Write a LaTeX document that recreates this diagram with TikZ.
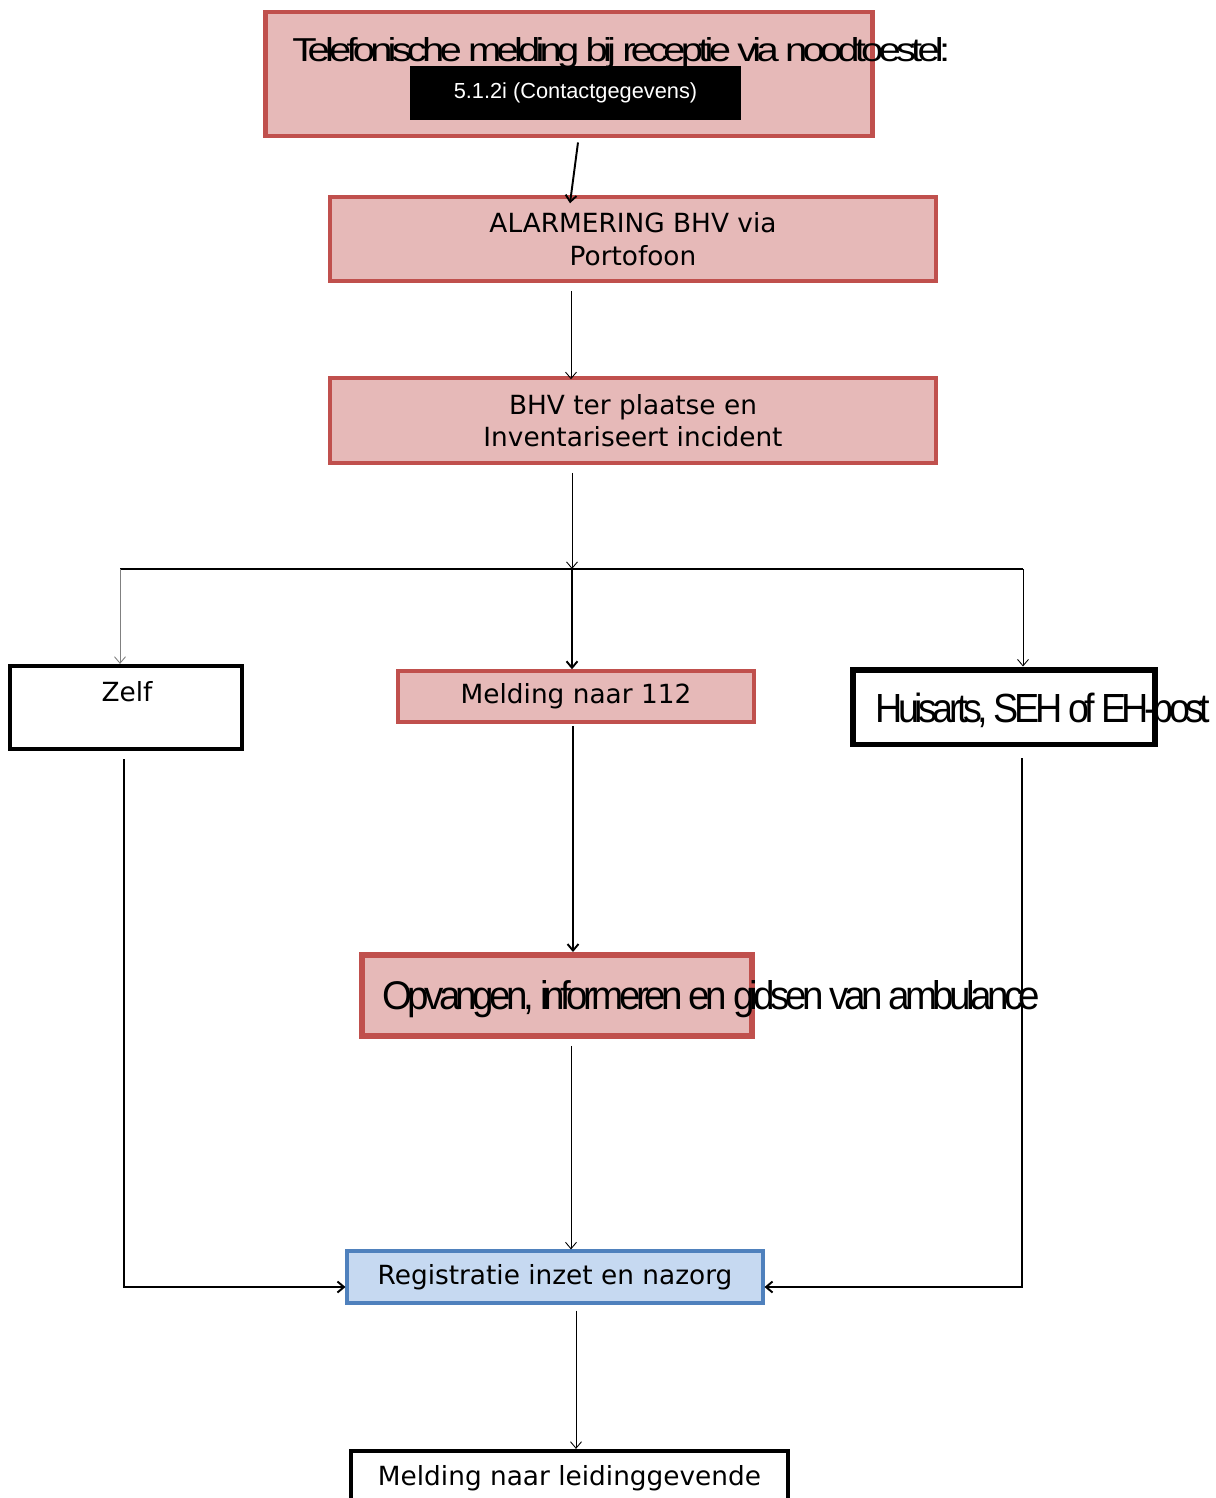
\documentclass[tikz,border=0pt]{standalone}
\usepackage{fontspec}
\usepackage{graphicx}
\setmainfont{DejaVu Sans}
\newfontfamily\arialfont{Liberation Sans}
\newfontfamily\tightfont[LetterSpace=-12]{Liberation Sans}
\usetikzlibrary{arrows.meta,positioning,calc}

\definecolor{boxred}{HTML}{C0504D}
\definecolor{boxpink}{HTML}{E6B9B8}
\definecolor{boxblue}{HTML}{4F81BD}
\definecolor{boxlight}{HTML}{C6D9F1}
\newcommand\boxfont{\fontsize{15pt}{18.5pt}\selectfont}

\begin{document}
\begin{tikzpicture}[
  x=0.02cm, y=-0.02cm,
  box/.style={inner sep=0pt,align=center,font=\boxfont},
  redbox/.style={box,draw=boxred,fill=boxpink,line width=2pt},
  plainbox/.style={box,draw=black,fill=white,line width=2.4pt},
  bluebox/.style={box,draw=boxblue,fill=boxlight,line width=1.8pt},
  squeezed/.style={inner sep=0pt,anchor=base west,font=\tightfont},
  thinline/.style={line width=0.5pt},
  thickline/.style={line width=1.1pt},
  arr/.style={thinline,-{Straight Barb[length=1.3mm,width=2.2mm]}},
  thickarr/.style={thickline,-{Straight Barb[length=1.3mm,width=2.2mm]}}
]
\useasboundingbox (0,0) rectangle (1216,1498);
\clip (0,0) rectangle (1216,1498);

% Top
\node[redbox,line width=2.8pt,minimum width=12.16cm,minimum height=2.48cm] (tel) at (569,74) {};
\node[fill=black,text=white,inner sep=0pt,minimum width=6.62cm,minimum height=1.08cm,
  font={\arialfont\fontsize{12.4pt}{14pt}\selectfont}] (code) at (575.5,93) {5.1.2i (Contactgegevens)};
\node[squeezed] (teltxt) at (292,61) {\resizebox{13.16cm}{0.48cm}{Telefonische melding bij receptie via noodtoestel:}};

\node[redbox,minimum width=12.12cm,minimum height=1.68cm] (alarm) at (633,239) {ALARMERING BHV via\\Portofoon};
\node[redbox,minimum width=12.12cm,minimum height=1.70cm] (bhv) at (633,420.5) {BHV ter plaatse en\\Inventariseert incident};

% Fork
\coordinate (fork) at (572,569);
\coordinate (forkL) at (120,569);
\coordinate (forkR) at (1023,569);

% Row of options
\node[plainbox,minimum width=4.64cm,minimum height=1.66cm] (zelf) at (126,707.5) {};
\node[box] (zelftxt) at (127,692) {Zelf};
\node[redbox,minimum width=7.12cm,minimum height=1.02cm] (m112) at (576,696.5) {Melding naar 112};
\node[plainbox,line width=3.4pt,minimum width=6.04cm,minimum height=1.5cm] (huis) at (1004,707) {};
\node[squeezed] (huistxt) at (875,722) {\resizebox{6.7cm}{0.59cm}{Huisarts, SEH of EH-post}};

\node[redbox,line width=3.4pt,minimum width=7.8cm,minimum height=1.62cm] (opv) at (557,995.5) {};
\node[squeezed] (opvtxt) at (382,1009) {\resizebox{13.16cm}{0.58cm}{Opvangen, informeren en gidsen van ambulance}};

% Bottom
\node[bluebox,minimum width=8.32cm,minimum height=1.04cm] (reg) at (555,1277) {Registratie inzet en nazorg};
\node[plainbox,minimum width=8.74cm,minimum height=1.08cm] (leid) at (569.5,1478) {Melding naar leidinggevende};

\draw[thickarr] ($(tel.south)+(9,4)$) -- ($(alarm.north)+(-63,8)$);
\draw[arr] ($(alarm.south)+(-62,8)$) -- ($(bhv.north)+(-62,3)$);
\draw[arr] ($(bhv.south)+(-61,8)$) -- (fork);
\draw[thickline] (forkL) -- (forkR);
\draw[arr,gray] (forkL) -- (forkL |- zelf.north);
\draw[thickarr] (fork) -- (fork |- m112.north);
\draw[arr] (forkR) -- (forkR |- huis.north);
\draw[thickarr] ($(m112.south)+(-3,2)$) coordinate (m1) -- (m1 |- opv.north);
\draw[thickarr] ($(zelf.south)+(-2,8)$) |- ($(reg.west)+(0,10)$);
\draw[thickarr] ($(huis.south)+(18,11)$) |- ($(reg.east)+(0,10)$);
\draw[arr] ($(opv.south)+(14,7)$) coordinate (o1) -- (o1 |- reg.north);
\draw[arr] ($(reg.south)+(21,6)$) coordinate (r1) -- (r1 |- leid.north);
\end{tikzpicture}
\end{document}
